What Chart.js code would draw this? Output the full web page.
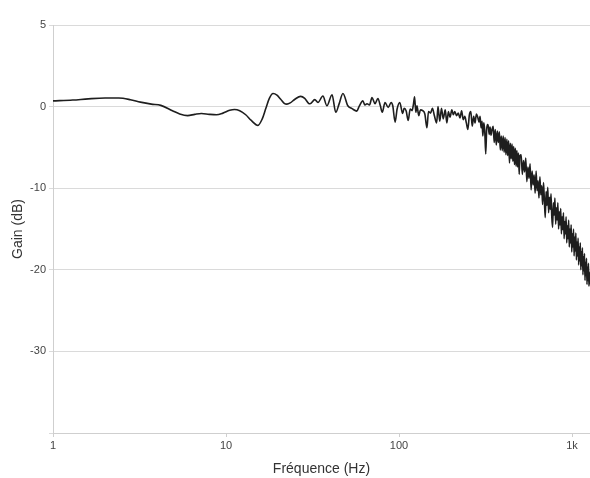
<!DOCTYPE html>
<html>
<head>
<meta charset="utf-8">
<script src="https://cdn.jsdelivr.net/npm/chart.js@4/dist/chart.umd.min.js"></script>
<style>
  html, body { margin: 0; padding: 0; background: #fff; }
  #wrap { width: 590px; height: 478px; }
</style>
</head>
<body>
<div id="wrap"><canvas id="gainChart"></canvas></div>
<script>

// DATA ########################################################################

// smooth low end, 1 - 30 Hz
var freqLow = [1, 1.3, 1.6, 2, 2.4, 2.8, 3.2, 3.7, 4.2, 4.9, 5.4, 6, 6.6, 7.2, 8, 8.8,
               9.6, 10.5, 11.2, 12, 13, 14, 15.3, 16.2, 17, 17.8, 18.7, 19.7, 20.7,
               21.7, 22.5, 23.5, 25, 27, 28.5, 30];
var gainLow = [0.7, 0.8, 0.95, 1.05, 1.05, 0.85, 0.55, 0.3, 0.15, -0.5, -0.9, -1.1, -0.95, -0.85, -0.95, -1.0,
               -0.8, -0.45, -0.35, -0.5, -1.0, -1.7, -2.3, -1.5, -0.2, 1.0, 1.6, 1.4, 0.9,
               0.4, 0.3, 0.45, 0.9, 1.25, 1.0, 0.4];

// ripples, 30 - 130 Hz
var freqMid = [30.6, 32.6, 34, 36.3, 38.3, 41, 43.1, 45, 47.4, 50.6, 53.5, 57, 59, 61.8,
               63.5, 65.3, 67.5, 69.8, 72.7, 75.5, 78, 80, 83, 86.6, 90, 92, 94.9, 97.5,
               101, 105, 107, 110, 113, 116, 119, 121, 123, 125, 127, 130];
var gainMid = [0.35, 0.85, 0.5, 1.3, 0.1, 1.45, -0.7, 0.3, 1.6, 0.1, -0.25, -0.55, 0.1, 0.7,
               0.2, 0.35, 0.2, 1.1, 0.35, 1.0, 0.1, -0.7, 0.5, -0.1, 0.5, 0.1, -1.9, -0.3,
               0.5, -0.85, -0.2, -0.55, -1.7, -0.3, -0.5, 0.2, 1.2, -0.7, 0.1, -1.1];

// noisy shoulder, 130 - 500 Hz
var freqKnee = [133, 137, 141, 145, 148, 152, 156, 160, 165, 168, 172, 176, 180, 185, 189,
                193, 197, 202, 206, 210, 215, 220, 225, 230, 235, 240, 245, 250, 255, 260,
                265, 270, 275, 280, 285, 290, 294, 298, 302, 305, 309, 313, 317, 321, 325,
                328, 332, 336, 340, 345,
                350, 355, 360, 365, 370, 375, 380, 385, 390, 395, 400, 405, 410, 415, 420,
                425, 430, 435, 440, 445, 450, 455, 460, 465, 470, 475, 480, 485, 490, 495, 500];
var gainKnee = [-0.4, -0.5, -0.9, -2.6, -0.6, -0.8, -0.2, -1.1, -2.0, 0.0, -1.8, -0.2, -1.5, -0.4, -2.0,
                -0.6, -1.3, -0.4, -1.0, -0.6, -1.1, -0.8, -1.4, -0.5, -1.6, -1.2, -2.0, -2.8, -1.0, -0.6,
                -2.4, -1.2, -2.0, -0.9, -1.3, -1.9, -1.2, -2.6, -1.8, -3.6, -2.0, -3.0, -5.8, -2.8, -2.2,
                -2.4, -3.4, -2.5, -3.5, -2.8,
                -2.4, -4.4, -2.8, -4.7, -3.0, -4.4, -3.1, -5.3, -3.6, -5.4, -3.6, -5.6, -3.8, -5.9, -4.0,
                -6.0, -4.2, -6.9, -4.5, -6.4, -4.6, -6.7, -4.9, -7.1, -5.1, -7.3, -5.4, -7.4, -5.7, -8.3, -6.0];

// roll-off, 508 - 1268 Hz
var freqHigh = [508, 516, 524, 532, 540, 548, 556, 564, 572, 580, 588, 596, 604, 612, 620, 628,
                636, 644, 652, 660, 668, 676, 684, 692, 700, 708, 716, 724, 732, 740, 748, 756,
                764, 772, 780, 788, 796, 804, 812, 820, 828, 836, 844, 852, 860, 868, 876, 884,
                892, 900, 908, 916, 924, 932, 940, 948, 956, 964, 972, 980, 988, 996, 1004, 1012,
                1020, 1028, 1036, 1044, 1052, 1060, 1068, 1076, 1084, 1092, 1100, 1108, 1116, 1124, 1132, 1140,
                1148, 1156, 1164, 1172, 1180, 1188, 1196, 1204, 1212, 1220, 1228, 1236, 1244, 1252, 1260, 1268];
var gainHigh = [-5.9, -8.3, -6.6, -8.0, -6.3, -9.2, -7.4, -8.8, -7.0, -10.2, -7.9, -9.6, -8.4, -10.6, -7.9, -10.3,
                -9.1, -11.2, -8.6, -10.8, -9.7, -12.0, -9.3, -11.5, -13.6, -10.4, -12.1, -9.9, -13.0, -11.1, -12.6, -10.7,
                -13.6, -14.8, -11.8, -13.3, -11.2, -14.4, -12.4, -13.9, -11.8, -15.0, -12.9, -14.5, -12.5, -15.6, -13.5, -15.1,
                -13.0, -16.2, -14.1, -15.6, -13.5, -16.7, -14.6, -16.2, -13.9, -17.2, -15.0, -16.7, -14.5, -17.8, -15.6, -17.2,
                -15.0, -18.3, -16.0, -17.7, -15.5, -18.8, -16.6, -18.3, -16.1, -19.4, -17.2, -18.9, -16.7, -20.0, -17.8, -19.5,
                -17.3, -20.6, -18.4, -20.1, -18.0, -21.3, -19.1, -20.7, -18.6, -21.8, -19.7, -21.3, -19.2, -22.0, -20.3, -21.8];

var xTickValues = [1, 10, 100, 1000];
var yTopTickLabel = "5";


// CHART #######################################################################

var freqs = freqLow.concat(freqMid, freqKnee, freqHigh);
var gains = gainLow.concat(gainMid, gainKnee, gainHigh);
var points = freqs.map(function (f, i) {
    return { x: f, y: gains[i] };
});

var ctx = document.getElementById("gainChart");
var myGainChart = new Chart(ctx, {
    type: 'line',
    data: {
        datasets: [
            {
                label: "Gain",
                data: points,
                borderColor: "#1e1e1e",
                borderWidth: 1.6,
                pointRadius: 0,
                fill: false,
                cubicInterpolationMode: 'monotone'
            }
        ]
    },
    options: {
        responsive: true,
        maintainAspectRatio: false,
        animation: false,
        layout: { padding: { top: 25, right: 0, left: 0, bottom: 0 } },
        plugins: {
            legend: { display: false },
            tooltip: { enabled: false }
        },
        scales: {
            x: {
                type: 'logarithmic',
                min: 1,
                max: 1270,
                afterBuildTicks: function (scale) {
                    scale.ticks = xTickValues.map(function (v) { return { value: v }; });
                },
                afterFit: function (scale) { scale.height = 45; },
                grid: { drawOnChartArea: false, tickLength: 4, color: "#cfcfcf" },
                border: { color: "#cfcfcf", width: 1 },
                ticks: {
                    autoSkip: false,
                    maxRotation: 0,
                    padding: 2,
                    color: "#444",
                    font: { family: "'Liberation Sans', Arial, sans-serif", size: 11 },
                    callback: function (value) {
                        return value >= 1000 ? (value / 1000) + "k" : String(value);
                    }
                },
                title: {
                    display: true,
                    text: "Fréquence (Hz)",
                    color: "#333",
                    font: { family: "'Liberation Sans', Arial, sans-serif", size: 14 },
                    padding: { top: 8, bottom: 0 }
                }
            },
            y: {
                min: -40,
                max: 10,
                afterFit: function (scale) { scale.width = 53; },
                grid: { color: "#dadada", tickLength: 4, lineWidth: 1 },
                border: { color: "#cfcfcf", width: 1 },
                ticks: {
                    stepSize: 10,
                    padding: 3,
                    color: "#444",
                    font: { family: "'Liberation Sans', Arial, sans-serif", size: 11 },
                    callback: function (value) {
                        if (value === 10) { return yTopTickLabel; }
                        if (value === -40) { return ""; }
                        return String(value);
                    }
                },
                title: {
                    display: true,
                    text: "Gain (dB)",
                    color: "#333",
                    font: { family: "'Liberation Sans', Arial, sans-serif", size: 14 },
                    padding: { top: 10, bottom: 4 }
                }
            }
        }
    }
});
</script>
</body>
</html>
